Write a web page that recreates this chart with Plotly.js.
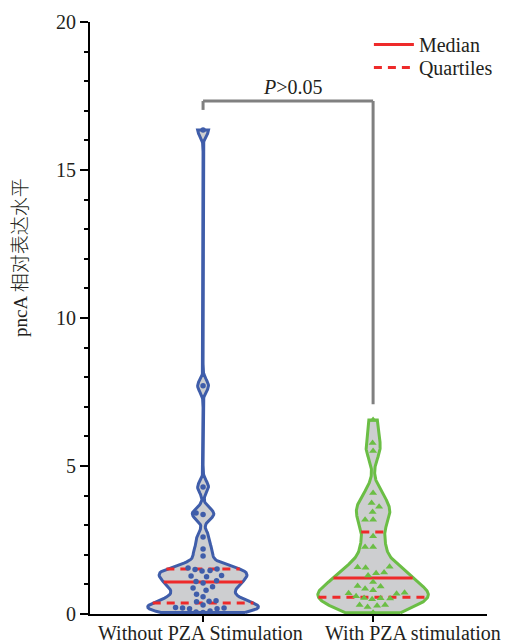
<!DOCTYPE html>
<html><head><meta charset="utf-8">
<script src="https://cdn.plot.ly/plotly-3.0.1.min.js"></script>
<style>html,body{margin:0;padding:0;background:#fff}</style>
</head><body><div id="chart" style="width:505px;height:644px"></div>
<script>
// ---- data ----
const categories = ['Without PZA Stimulation', 'With PZA stimulation'];
const withoutPZA = [16.35, 7.71, 4.29, 3.41, 3.36, 2.6, 2.2, 1.96, 1.55,
  1.52, 1.5, 1.47, 1.45, 1.3, 1.28, 1.26, 1.12, 1.1,
  1.05, 0.92, 0.88, 0.8, 0.67, 0.58, 0.45, 0.43, 0.41,
  0.3, 0.22, 0.2, 0.2, 0.18, 0.18, 0.1, 0.07, 0.05];
const withPZA = [6.55, 5.78, 5.51, 4.09, 3.75, 3.62, 3.45, 3.18, 3.18,
  2.63, 2.26, 2.26, 1.6, 1.58, 1.56, 1.4, 1.38, 1.3,
  1.08, 0.95, 0.93, 0.85, 0.8, 0.72, 0.7, 0.68, 0.6,
  0.54, 0.53, 0.52, 0.5, 0.3, 0.3, 0.28, 0.24, 0.04];
const medians = [1.08, 1.22];
const lowerQuartiles = [0.37, 0.57];
const upperQuartiles = [1.52, 2.77];
const pLabel = '<i>P</i>>0.05';
const yTitleLatin = 'pncA';
const yTitleCJK = '相对表达水平';
const yTicks = [0, 5, 10, 15, 20];

// ---- styling ----
const lineColors = ['#3F5DAA', '#6BBE45'];
const fill = '#CDCED0';
const red = '#EE2A2A';
const bandwidths = [0.2, 0.38];
const halfWidth = 0.325;
const xRange = [-0.665, 1.67];
const yRange = [0, 20];
const W = 505, H = 644, M = {l: 90, r: 18, t: 22, b: 30, autoexpand: false};
const pxX = (W - M.l - M.r) / (xRange[1] - xRange[0]);
const pxY = (H - M.t - M.b) / (yRange[1] - yRange[0]);
const serif = 'Liberation Serif';
const txt = '#231F20';
const labelCenters = [-0.018, 1.235];

function kde(data, h, y) {
  let s = 0;
  for (const d of data) { const z = (y - d) / h; s += Math.exp(-0.5 * z * z); }
  return s;
}

function violin(data, h, c) {
  const lo = Math.min(...data), hi = Math.max(...data);
  const N = 400, ys = [], ds = [];
  for (let i = 0; i <= N; i++) { const y = lo + (hi - lo) * i / N; ys.push(y); ds.push(kde(data, h, y)); }
  const mx = Math.max(...ds);
  const wfn = y => kde(data, h, y) / mx * halfWidth;
  const px = [], py = [];
  for (let i = 0; i <= N; i++) { px.push(c + ds[i] / mx * halfWidth); py.push(ys[i]); }
  for (let i = N; i >= 0; i--) { px.push(c - ds[i] / mx * halfWidth); py.push(ys[i]); }
  px.push(px[0]); py.push(py[0]);
  return {px, py, wfn};
}

function swarm(data, c, dmin) {
  const idx = data.map((v, i) => i).sort((a, b) => data[a] - data[b]);
  const placed = []; const xs = new Array(data.length);
  for (const i of idx) {
    const yp = data[i] * pxY;
    let off = 0;
    for (let k = 0; k < 400; k++) {
      const cand = (k % 2 === 0 ? 1 : -1) * Math.ceil(k / 2) * 0.5;
      let ok = true;
      for (const p of placed) {
        const dx = p.x - cand, dy = p.y - yp;
        if (dx * dx + dy * dy < dmin * dmin) { ok = false; break; }
      }
      if (ok) { off = cand; break; }
    }
    placed.push({x: off, y: yp});
    xs[i] = c + off / pxX;
  }
  return xs;
}

const groups = [withoutPZA, withPZA];
const traces = [];
groups.forEach((g, gi) => {
  const v = violin(g, bandwidths[gi], gi);
  traces.push({x: v.px, y: v.py, mode: 'lines', fill: 'toself', fillcolor: fill,
    line: {color: lineColors[gi], width: 3}, showlegend: false, hoverinfo: 'skip'});
  const m = medians[gi], wm = v.wfn(m);
  traces.push({x: [gi - wm, gi + wm], y: [m, m], mode: 'lines', name: 'Median', legend: 'legend',
    line: {color: red, width: 3}, showlegend: gi === 0});
  [lowerQuartiles[gi], upperQuartiles[gi]].forEach((q, qi) => {
    const wq = v.wfn(q);
    traces.push({x: [gi - wq, gi + wq], y: [q, q], mode: 'lines', name: 'Quartiles', legend: 'legend2',
      line: {color: red, width: 3, dash: '8px,6px'}, showlegend: gi === 0 && qi === 0});
  });
});
groups.forEach((g, gi) => {
  traces.push({x: swarm(g, gi, gi === 0 ? 7 : 8), y: g, mode: 'markers', showlegend: false,
    marker: gi === 0 ? {symbol: 'circle', size: 5.5, color: lineColors[0]}
                     : {symbol: 'triangle-up', size: 7, color: lineColors[1]}});
});

const bracket = {y: 17.33, left: 17.03, right: 7.09};
const annotations = [
  {x: 0.53, y: bracket.y, xref: 'x', yref: 'y', yanchor: 'bottom', yshift: 1, text: pLabel, showarrow: false,
    font: {family: serif, size: 20, color: txt}},
  {x: (18 - M.l) / (W - M.l - M.r), y: (H - M.b - 258) / (H - M.t - M.b), xref: 'paper', yref: 'paper',
    text: yTitleLatin + ' <span style="font-family:\'Noto Sans CJK SC\';font-weight:300">' + yTitleCJK + '</span>',
    textangle: -90, showarrow: false, xanchor: 'center', yanchor: 'middle',
    font: {family: serif, size: 19, color: txt}}
];
categories.forEach((c, i) => annotations.push({x: labelCenters[i], y: 0, xref: 'x', yref: 'paper',
  yanchor: 'top', xanchor: 'center', yshift: -6, text: c, showarrow: false,
  font: {family: serif, size: 20, color: txt}}));

const legendStyle = {x: 0.7025, xanchor: 'left', yanchor: 'top', bgcolor: 'rgba(0,0,0,0)',
  font: {family: serif, size: 20, color: txt}, itemwidth: 40};
const layout = {
  width: W, height: H, margin: M, paper_bgcolor: '#fff', plot_bgcolor: '#fff',
  font: {family: serif, color: txt, size: 20},
  xaxis: {range: xRange, tickvals: [0, 1], ticktext: ['', ''], tickangle: 0, showgrid: false, zeroline: false,
    showline: true, linecolor: '#000', linewidth: 2, ticks: 'outside', ticklen: 6, tickwidth: 2,
    tickcolor: '#000', automargin: false},
  yaxis: {range: yRange, tickvals: yTicks, showgrid: false, zeroline: false,
    showline: true, linecolor: '#000', linewidth: 2, ticks: 'outside', ticklen: 8, tickwidth: 2,
    tickcolor: '#000', tickfont: {family: serif, size: 20, color: txt}, automargin: false,
    minor: {dtick: 1, ticks: 'outside', ticklen: 4, tickwidth: 2, tickcolor: '#000'}},
  legend: Object.assign({y: 0.995}, legendStyle),
  legend2: Object.assign({y: 0.956}, legendStyle),
  shapes: [
    {type: 'line', xref: 'x', yref: 'y', x0: 0, x1: 1, y0: bracket.y, y1: bracket.y, line: {color: '#808080', width: 3}},
    {type: 'line', xref: 'x', yref: 'y', x0: 0, x1: 0, y0: bracket.y, y1: bracket.left, line: {color: '#808080', width: 3}},
    {type: 'line', xref: 'x', yref: 'y', x0: 1, x1: 1, y0: bracket.y, y1: bracket.right, line: {color: '#808080', width: 3}}
  ],
  annotations: annotations
};
Plotly.newPlot('chart', traces, layout, {displayModeBar: false, staticPlot: true});
</script></body></html>
